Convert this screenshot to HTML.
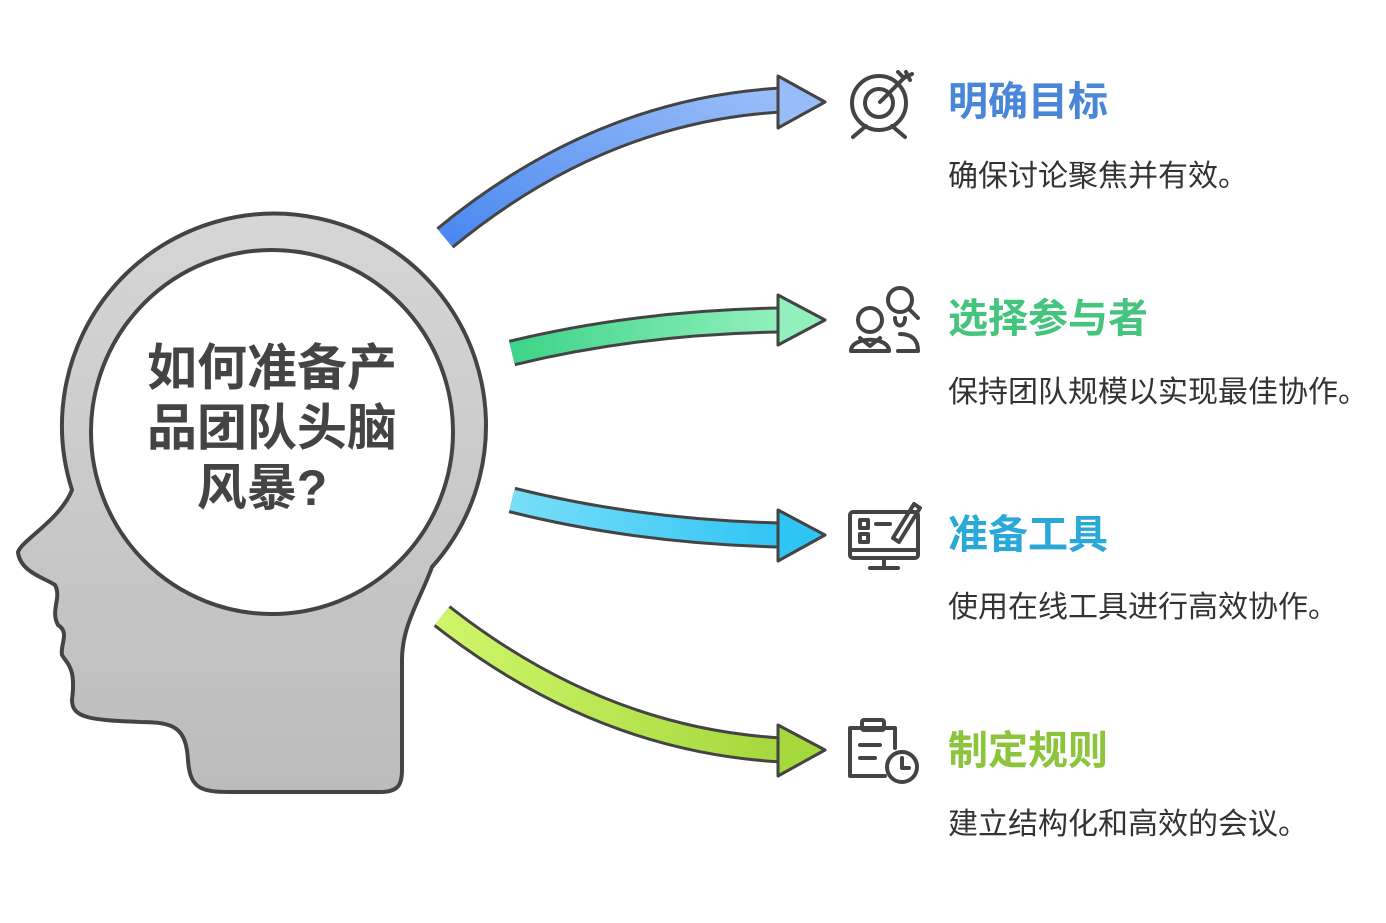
<!DOCTYPE html>
<html><head><meta charset="utf-8"><style>
body{margin:0;width:1386px;height:918px;background:#fff;overflow:hidden;font-family:"Liberation Sans","Noto Sans CJK SC",sans-serif}
</style></head><body>
<svg width="1386" height="918" viewBox="0 0 1386 918" xmlns="http://www.w3.org/2000/svg">
<defs>
<linearGradient id="hg" x1="0" y1="0" x2="0" y2="1"><stop offset="0" stop-color="#d6d6d6"/><stop offset="1" stop-color="#bcbcbc"/></linearGradient>
<linearGradient id="gb" x1="0" y1="1" x2="1" y2="0"><stop offset="0" stop-color="#4a88f0"/><stop offset="1" stop-color="#98bcf8"/></linearGradient>
<linearGradient id="gg" x1="0" y1="0" x2="1" y2="0"><stop offset="0" stop-color="#3dd488"/><stop offset="1" stop-color="#92f0bc"/></linearGradient>
<linearGradient id="gc" x1="0" y1="0" x2="1" y2="0"><stop offset="0" stop-color="#78def8"/><stop offset="1" stop-color="#30c4f4"/></linearGradient>
<linearGradient id="gl" x1="0" y1="0" x2="1" y2="0"><stop offset="0" stop-color="#cff56a"/><stop offset="1" stop-color="#a4d83c"/></linearGradient>
</defs>
<path d="M432,567 A212,212 0 1 0 72,490 C60,520 22,540 18,552 C20,572 45,578 55,585 C62,598 50,610 58,625 C70,632 60,645 62,655 C68,665 76,668 72,700 C72,718 90,720 140,722 C175,722 186,728 188,760 C190,788 200,792 230,792 L380,792 C398,792 402,785 402,770 L402,660 C402,625 420,600 432,567 Z" fill="url(#hg)" stroke="#444" stroke-width="4" stroke-linejoin="round"/>
<ellipse cx="272" cy="432" rx="181" ry="182" fill="#fff" stroke="#444" stroke-width="4"/>
<g font-size="50" font-weight="bold" fill="#444" text-anchor="middle">
<text x="272" y="385">如何准备产</text>
<text x="272" y="445">品团队头脑</text>
<text x="262" y="505">风暴?</text>
</g>
<g stroke-linejoin="round">
<path d="M445,238 Q600,110 782,100" fill="none" stroke="#444" stroke-width="27"/>
<path d="M445,238 Q600,110 782,100" fill="none" stroke="url(#gb)" stroke-width="21"/>
<polygon points="778,76 825,102 778,128" fill="#98bcf8" stroke="#444" stroke-width="3"/>
<path d="M512,353 Q640,322 782,320" fill="none" stroke="#444" stroke-width="27"/>
<path d="M512,353 Q640,322 782,320" fill="none" stroke="url(#gg)" stroke-width="21"/>
<polygon points="778,295 825,320 778,345" fill="#92f0bc" stroke="#444" stroke-width="3"/>
<path d="M512,500 Q640,532 782,535" fill="none" stroke="#444" stroke-width="27"/>
<path d="M512,500 Q640,532 782,535" fill="none" stroke="url(#gc)" stroke-width="21"/>
<polygon points="778,510 825,535 778,561" fill="#30c4f4" stroke="#444" stroke-width="3"/>
<path d="M442,616 Q600,740 782,750" fill="none" stroke="#444" stroke-width="27"/>
<path d="M442,616 Q600,740 782,750" fill="none" stroke="url(#gl)" stroke-width="21"/>
<polygon points="778,725 825,750 778,776" fill="#a4d83c" stroke="#444" stroke-width="3"/>
</g>
<g fill="none" stroke="#444" stroke-width="4" stroke-linecap="round" stroke-linejoin="round">
<circle cx="879" cy="103" r="27"/><circle cx="879" cy="103" r="14"/>
<line x1="880" y1="102" x2="906" y2="76"/><path d="M898,72 L904,78 L912,74 M906,72 L910,80"/>
<line x1="866" y1="126" x2="853" y2="137"/><line x1="892" y1="126" x2="905" y2="137"/>
<circle cx="870" cy="320" r="12"/><path d="M851,351 C851,336 889,336 889,351 Z M860,338 L870,346 L880,338"/>
<circle cx="900" cy="300" r="12"/><line x1="909" y1="309" x2="918" y2="318"/><path d="M895,318 C895,328 905,328 905,318 M898,351 L918,351 C918,340 912,334 900,334"/>
<rect x="850" y="512" width="68" height="46" rx="3"/><line x1="850" y1="550" x2="918" y2="550"/><line x1="870" y1="568" x2="898" y2="568"/><line x1="884" y1="558" x2="884" y2="568"/>
<rect x="860" y="520" width="8" height="8"/><rect x="860" y="534" width="8" height="8"/><line x1="876" y1="524" x2="890" y2="524"/>
<path d="M893,538 L914,504 L920,508 L899,542 Z"/>
<path d="M885,776 L850,776 L850,728 L895,728 L895,748"/><rect x="862" y="720" width="22" height="10" rx="2"/><line x1="860" y1="745" x2="880" y2="745"/><line x1="860" y1="758" x2="875" y2="758"/>
<circle cx="902" cy="767" r="15"/><path d="M902,758 L902,768 L909,768"/>
</g>
<g font-weight="bold" font-size="40">
<text x="948" y="115" fill="#4a86d8">明确目标</text>
<text x="948" y="332" fill="#44c47c">选择参与者</text>
<text x="948" y="548" fill="#2aa8d8">准备工具</text>
<text x="948" y="764" fill="#8cc43c">制定规则</text>
</g>
<g font-size="30" fill="#333">
<text x="948" y="186">确保讨论聚焦并有效。</text>
<text x="948" y="402">保持团队规模以实现最佳协作。</text>
<text x="948" y="617">使用在线工具进行高效协作。</text>
<text x="948" y="834">建立结构化和高效的会议。</text>
</g>
</svg>
</body></html>
